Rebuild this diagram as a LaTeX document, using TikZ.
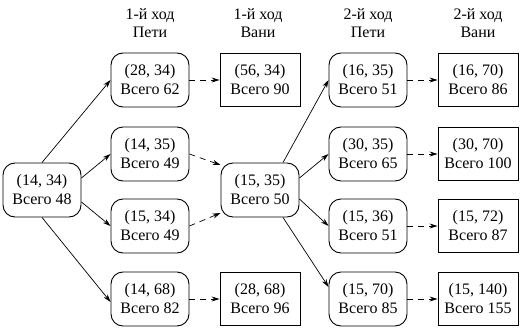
\documentclass[tikz,border=0pt]{standalone}
\usepackage{fontspec}
\setmainfont{Liberation Serif}
\usetikzlibrary{arrows.meta}
\begin{document}
\begin{tikzpicture}[x=1pt,y=-1pt,
  txt/.style={align=center, font=\fontsize{16}{19}\selectfont, inner sep=0pt},
  petya/.style={txt, draw, rounded corners=12pt, minimum width=78pt, minimum height=54pt, line width=0.9pt},
  vanya/.style={txt, draw, rectangle, minimum width=80pt, minimum height=53pt, line width=0.9pt},
  hdr/.style={align=center, font=\fontsize{16}{18}\selectfont, inner sep=0pt},
  mv/.style={-{Stealth[length=8pt,width=5pt]}, line width=0.7pt},
  dmv/.style={mv, dash pattern=on 6pt off 5pt},
]
\useasboundingbox (0,0) rectangle (520,329);

% headers
\node[hdr] (h1) at (150,23) {1-й ход\\Пети};
\node[hdr] (h2) at (258,23) {1-й ход\\Вани};
\node[hdr] (h3) at (368,23) {2-й ход\\Пети};
\node[hdr] (h4) at (478,23) {2-й ход\\Вани};

% nodes
\node[petya] (root) at (42,190) {(14, 34)\\Всего 48};

\node[petya] (p1) at (150,80)  {(28, 34)\\Всего 62};
\node[petya] (p2) at (150,154) {(14, 35)\\Всего 49};
\node[petya] (p3) at (150,226) {(15, 34)\\Всего 49};
\node[petya] (p4) at (150,299) {(14, 68)\\Всего 82};

\node[vanya] (v1) at (260,80)  {(56, 34)\\Всего 90};
\node[petya] (mid) at (260,190) {(15, 35)\\Всего 50};
\node[vanya] (v4) at (260,299) {(28, 68)\\Всего 96};

\node[petya] (q1) at (368,80)  {(16, 35)\\Всего 51};
\node[petya] (q2) at (368,154) {(30, 35)\\Всего 65};
\node[petya] (q3) at (368,226) {(15, 36)\\Всего 51};
\node[petya] (q4) at (368,299) {(15, 70)\\Всего 85};

\node[vanya] (w1) at (478,80)  {(16, 70)\\Всего 86};
\node[vanya] (w2) at (478,154) {(30, 70)\\Всего 100};
\node[vanya] (w3) at (478,226) {(15, 72)\\Всего 87};
\node[vanya] (w4) at (478,299) {(15, 140)\\Всего 155};

% Petya's first moves
\draw[mv] (root.north) -- (p1.west);
\draw[mv] ([yshift=12pt]root.east) -- (p2.west);
\draw[mv] ([yshift=-12pt]root.east) -- (p3.west);
\draw[mv] (root.south) -- ([yshift=-3pt]p4.west);

% Vanya's first moves
\draw[dmv] (p1.east) -- (v1.west);
\draw[dmv] (p2.east) -- ([yshift=25pt]mid.west);
\draw[dmv] (p3.east) -- ([yshift=-23pt]mid.west);
\draw[dmv] (p4.east) -- (v4.west);

% Petya's second moves
\draw[mv] ([xshift=23pt]mid.north) -- (q1.west);
\draw[mv] ([yshift=12pt]mid.east) -- (q2.west);
\draw[mv] ([yshift=-9pt]mid.east) -- (q3.west);
\draw[mv] ([xshift=23pt]mid.south) -- ([yshift=12pt]q4.west);

% Vanya's second moves
\draw[dmv] (q1.east) -- (w1.west);
\draw[dmv] (q2.east) -- (w2.west);
\draw[dmv] (q3.east) -- (w3.west);
\draw[dmv] (q4.east) -- (w4.west);
\end{tikzpicture}
\end{document}
